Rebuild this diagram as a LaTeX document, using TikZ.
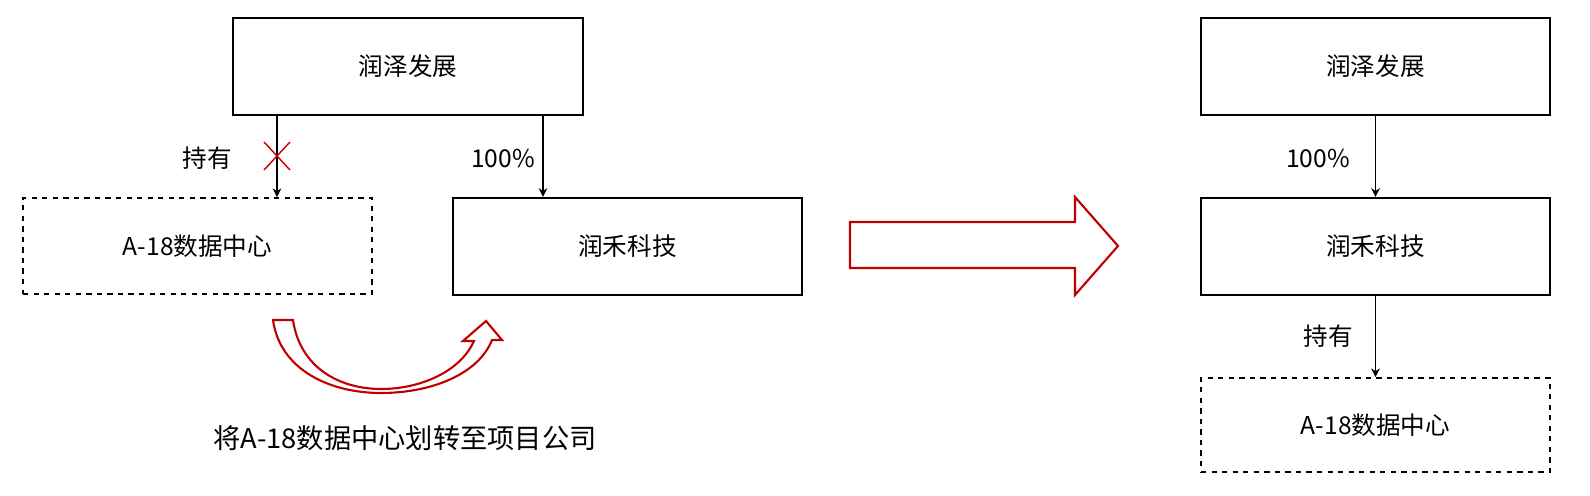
\documentclass[tikz,border=0pt]{standalone}
\usepackage{fontspec}
\usetikzlibrary{arrows.meta,calc}
\setmainfont{Liberation Serif}
\newfontfamily\cjk{Noto Sans CJK SC}
\definecolor{dred}{RGB}{192,0,0}
\begin{document}
\begin{tikzpicture}[x=0.02cm,y=-0.02cm,
  box/.style={draw,line width=1.2pt,inner sep=0,font=\fontsize{14}{16}\selectfont\cjk},
  dbox/.style={box,dashed,line width=1pt},
  lbl/.style={font=\fontsize{14}{16}\selectfont\cjk},
  conn/.style={-{Stealth[length=5pt,width=5pt]},line width=0.6pt}]
\useasboundingbox (0,0) rectangle (1590,496);
\node[box,minimum width=350*0.02cm,minimum height=97*0.02cm] (a) at (408,66.5) {润泽发展};
\node[box,minimum width=349*0.02cm,minimum height=97*0.02cm] (b) at (627.5,246.5) {润禾科技};
\node[dbox,minimum width=349*0.02cm,minimum height=96*0.02cm] (c) at (197.5,246) {A-18数据中心};
\node[box,minimum width=349*0.02cm,minimum height=97*0.02cm] (ra) at (1375.5,66.5) {润泽发展};
\node[box,minimum width=349*0.02cm,minimum height=97*0.02cm] (rb) at (1375.5,246.5) {润禾科技};
\node[dbox,minimum width=349*0.02cm,minimum height=94*0.02cm] (rc) at (1375.5,425) {A-18数据中心};
\coordinate (a1) at (277,115);
\coordinate (a2) at (543,115);
\draw[conn] (a1) -- (c.north -| a1);
\draw[conn] (a2) -- (b.north -| a2);
\draw[conn] (ra) -- (rb);
\draw[conn] (rb) -- (rc);
\coordinate (x) at (277,156);
\draw[dred,line width=0.8pt] ($(x)+(-13,-14)$) -- ($(x)+(13,14)$) ($(x)+(13,-14)$) -- ($(x)+(-13,14)$);
\node[lbl] (l1) at (207,158) {持有};
\node[lbl] (l2) at (503,158) {100\%};
\node[lbl] (l3) at (1318,158) {100\%};
\node[lbl] (l4) at (1328,336) {持有};
\node[lbl,font=\fontsize{15.5}{18}\selectfont\cjk] (cap) at (405,438) {将A-18数据中心划转至项目公司};
\draw[dred,line width=1.2pt,fill=white] (850,222) -- (1075,222) -- (1075,197) -- (1118,246) -- (1075,295) -- (1075,268) -- (850,268) -- cycle;
\draw[dred,line width=1.2pt] (273,320) -- (293,320) .. controls (300,368) and (340,389) .. (381,389) .. controls (420,389) and (460,372) .. (474,341) -- (463,341) -- (486,321) -- (502,340) -- (492,340) .. controls (478,375) and (430,393) .. (381,393) .. controls (330,393) and (280,370) .. (273,320) -- cycle;
\end{tikzpicture}
\end{document}
